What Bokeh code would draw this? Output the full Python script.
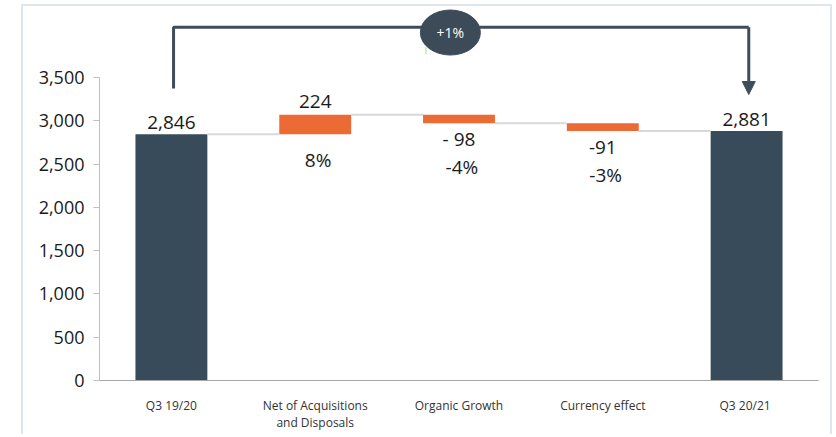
from bokeh.plotting import figure
from bokeh.models import (Range1d, FixedTicker, NumeralTickFormatter, Arrow, NormalHead,
                          InlineStyleSheet)
from bokeh.core.properties import value
from bokeh.embed import file_html
from bokeh.resources import INLINE

# ---- data ----
categories = ["Q3 19/20", "Net of Acquisitions\nand Disposals", "Organic Growth",
              "Currency effect", "Q3  20/21"]
amounts = [2846, 224, -98, -91, 2881]
kinds = ["total", "delta", "delta", "delta", "total"]
value_labels = ["2,846", "224", "- 98", "-91", "2,881"]
pct_labels = ["", "8%", "-4%", "-3%", ""]
y_ticks = [0, 500, 1000, 1500, 2000, 2500, 3000, 3500]
growth_label = "+1%"

# ---- styles ----
DARK = "#374b5a"
ORANGE = "#ec6a33"
FONT = "Open Sans"

# ---- waterfall geometry from data ----
xs = [i + 0.5 for i in range(len(categories))]
bottoms, tops, colors, levels = [], [], [], []
running = 0
for a, k in zip(amounts, kinds):
    if k == "total":
        b, t = 0, a
        running = a
        colors.append(DARK)
    else:
        b, t = min(running, running + a), max(running, running + a)
        running += a
        colors.append(ORANGE)
    bottoms.append(b)
    tops.append(t)
    levels.append(running)

p = figure(width=830, height=435, output_backend="svg", toolbar_location=None,
           x_range=Range1d(0, len(categories)), y_range=Range1d(0, 4390),
           min_border_left=99, min_border_right=12, min_border_top=0, min_border_bottom=55)
p.outline_line_color = None
p.grid.grid_line_color = None
p.background_fill_color = "white"
p.border_fill_color = "white"

p.stylesheets = [InlineStyleSheet(css=""":host::after{content:'';position:absolute;left:21px;top:4px;
 width:811px;height:430px;border-style:solid;border-color:#dfe5ec;border-width:2px 2px 0 2px;
 box-sizing:border-box;pointer-events:none;}""")]

# bars
p.vbar(x=xs, bottom=bottoms, top=tops, width=0.5, fill_color=colors, line_color=None)

# connectors
cx0 = [xs[i] + 0.25 for i in range(len(xs) - 1)]
cx1 = [xs[i + 1] - 0.25 for i in range(len(xs) - 1)]
cy = [levels[i] for i in range(len(xs) - 1)]
p.segment(x0=cx0, y0=cy, x1=cx1, y1=cy, line_color="#d9d9d9", line_width=2)

# value and percentage labels
vy, voff, py, poff, px, ptxt = [], [], [], [], [], []
for i, (a, k) in enumerate(zip(amounts, kinds)):
    if k == "total":
        vy.append(tops[i]); voff.append(-12)
    elif a >= 0:
        vy.append(tops[i]); voff.append(-13)
        px.append(xs[i] + 0.02); py.append(bottoms[i]); poff.append(26); ptxt.append(pct_labels[i])
    else:
        vy.append(bottoms[i]); voff.append(16)
        px.append(xs[i] + 0.02); py.append(bottoms[i]); poff.append(44); ptxt.append(pct_labels[i])

p.text(x=xs, y=vy, text=value_labels, y_offset=voff, text_align="center",
       text_baseline="middle", text_font=value(FONT), text_font_size="19px", text_color="#1a1a1a")
p.text(x=px, y=py, text=ptxt, y_offset=poff, text_align="center",
       text_baseline="middle", text_font=value(FONT), text_font_size="19px", text_color="#1a1a1a")

# growth bracket
bracket_y = 4080
left_x = xs[0] + 0.015
right_x = xs[-1] + 0.015
p.line(x=[left_x, left_x, right_x], y=[amounts[0] + 527, bracket_y, bracket_y],
       line_color="#3f4d5a", line_width=3)
p.add_layout(Arrow(end=NormalHead(size=13, fill_color="#3f4d5a", line_color="#3f4d5a"),
                   x_start=right_x, y_start=bracket_y, x_end=right_x, y_end=levels[-1] + 423,
                   line_color="#3f4d5a", line_width=3))
ex = 2.44
p.segment(x0=[2.27], y0=[3770], x1=[2.27], y1=[3850], line_color="#8ee88e", line_width=1)
p.ellipse(x=[ex], y=[4020], width=60, height=45, width_units="screen", height_units="screen",
          fill_color="#3d4b59", line_color="#3d4b59")
p.text(x=[ex], y=[4020], text=[growth_label], text_align="center", text_baseline="middle",
       text_font=value(FONT), text_font_size="14px", text_color="white")

# axes
p.yaxis.ticker = FixedTicker(ticks=y_ticks)
p.yaxis.formatter = NumeralTickFormatter(format="0,0")
p.yaxis.bounds = (0, 3500)
p.yaxis.major_tick_out = 6
p.yaxis.major_tick_in = 0
p.yaxis.minor_tick_out = 0
p.yaxis.minor_tick_in = 0
p.yaxis.axis_line_color = "#bfbfbf"
p.yaxis.major_tick_line_color = "#bfbfbf"
p.yaxis.major_label_text_font = FONT
p.yaxis.major_label_text_font_size = "18px"
p.yaxis.major_label_text_color = "#1a1a1a"
p.yaxis.major_label_standoff = 9

p.xaxis.ticker = FixedTicker(ticks=xs)
p.xaxis.major_label_overrides = {x: c for x, c in zip(xs, categories)}
p.xaxis.major_tick_out = 0
p.xaxis.major_tick_in = 0
p.xaxis.minor_tick_out = 0
p.xaxis.minor_tick_in = 0
p.xaxis.axis_line_color = "#a6a6a6"
p.xaxis.major_label_text_font = FONT
p.xaxis.major_label_text_font_size = "12px"
p.xaxis.major_label_text_color = "#333333"
p.xaxis.major_label_standoff = 16
p.xaxis.major_label_text_line_height = 1.0

open("out.html", "w").write(file_html(p, INLINE))
